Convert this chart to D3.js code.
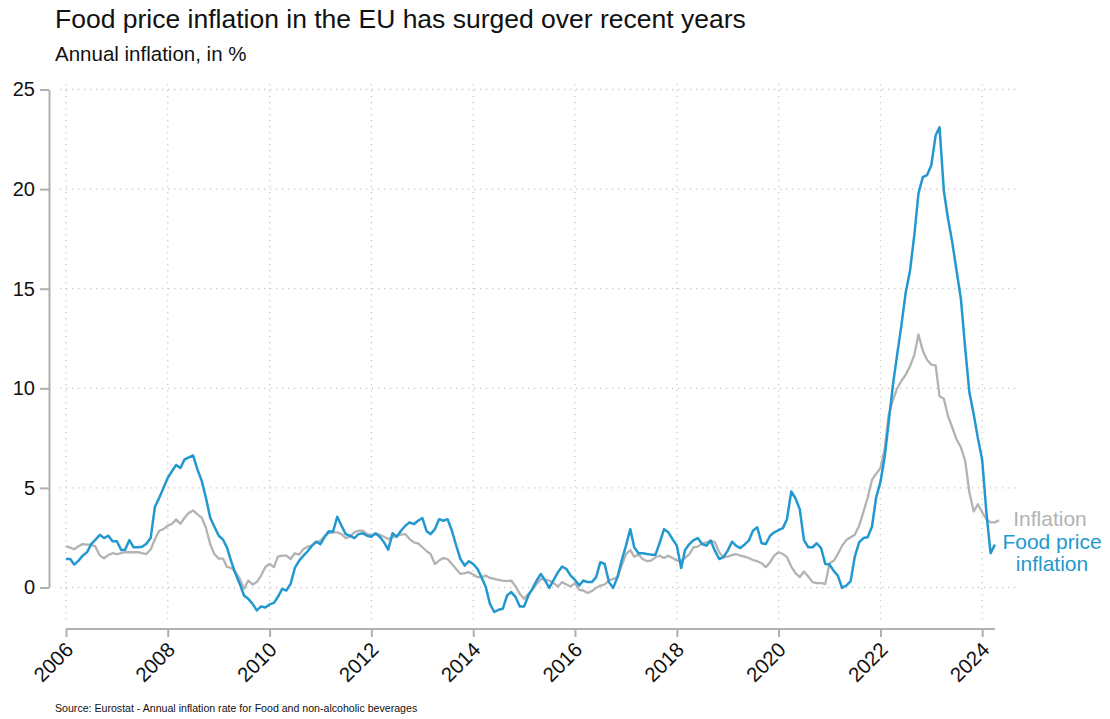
<!DOCTYPE html>
<html>
<head>
<meta charset="utf-8">
<script src="https://cdn.jsdelivr.net/npm/d3@7"></script>
<style>
  html, body { margin: 0; padding: 0; background: #fff; }
  svg { display: block; font-family: "Liberation Sans", Arial, Helvetica, sans-serif; }
</style>
</head>
<body>
<svg id="chart" width="1110" height="719"></svg>
<script>
// ---- data (monthly, starting January 2006) ----
const firstMonth = "2006-01";
const foodPrice = [
  1.43, 1.43, 1.15, 1.35, 1.6, 1.77, 2.18, 2.4, 2.65, 2.48, 2.6, 2.32,
  2.32, 1.88, 1.9, 2.38, 2.02, 2.02, 2.05, 2.2, 2.5, 4.05, 4.5, 5.0,
  5.5, 5.85, 6.15, 6.0, 6.43, 6.53, 6.63, 5.93, 5.35, 4.5, 3.5, 3.05,
  2.6, 2.4, 2.0, 1.3, 0.7, 0.18, -0.4, -0.57, -0.82, -1.15, -0.95, -1.0,
  -0.85, -0.77, -0.48, -0.07, -0.15, 0.18, 0.98, 1.35, 1.6, 1.82, 2.1, 2.3,
  2.18, 2.55, 2.82, 2.8, 3.55, 3.1, 2.68, 2.6, 2.48, 2.68, 2.72, 2.6,
  2.55, 2.72, 2.55, 2.27, 1.9, 2.72, 2.55, 2.85, 3.1, 3.27, 3.18, 3.35,
  3.48, 2.82, 2.68, 2.93, 3.43, 3.35, 3.43, 2.85, 2.1, 1.43, 1.1, 1.32,
  1.18, 0.93, 0.52, 0.02, -0.82, -1.23, -1.12, -1.07, -0.4, -0.23, -0.48, -0.95,
  -0.95, -0.4, -0.07, 0.35, 0.68, 0.35, -0.02, 0.38, 0.77, 1.05, 0.93, 0.6,
  0.38, 0.1, 0.35, 0.27, 0.27, 0.52, 1.27, 1.18, 0.27, -0.02, 0.52, 1.35,
  2.1, 2.93, 2.02, 1.72, 1.72, 1.68, 1.65, 1.65, 2.27, 2.93, 2.77, 2.43,
  2.1, 0.98, 1.88, 2.18, 2.38, 2.48, 2.18, 2.1, 2.35, 1.85, 1.43, 1.52,
  1.85, 2.3, 2.1, 1.98, 2.15, 2.35, 2.85, 3.02, 2.22, 2.18, 2.6, 2.77,
  2.88, 2.98, 3.43, 4.82, 4.48, 3.93, 2.38, 2.02, 2.02, 2.22, 1.98, 1.18,
  1.15, 0.82, 0.6, -0.02, 0.1, 0.32, 1.55, 2.27, 2.48, 2.52, 3.05, 4.52,
  5.3, 6.6, 8.3, 10.2, 11.7, 13.2, 14.8, 15.9, 17.7, 19.8, 20.6, 20.7,
  21.2, 22.7, 23.1, 19.9, 18.5, 17.3, 15.9, 14.5, 12.0, 9.8, 8.7, 7.5,
  6.4, 3.7, 1.72, 2.15
];
const inflation = [
  2.07, 2.0, 1.92, 2.07, 2.18, 2.15, 2.15, 2.05, 1.6, 1.47, 1.63, 1.72,
  1.68, 1.73, 1.77, 1.78, 1.77, 1.77, 1.72, 1.68, 1.92, 2.42, 2.85, 2.93,
  3.1, 3.2, 3.42, 3.2, 3.5, 3.75, 3.87, 3.67, 3.5, 3.0, 2.17, 1.67,
  1.45, 1.45, 1.03, 0.98, 0.77, 0.43, -0.07, 0.35, 0.15, 0.27, 0.6, 1.03,
  1.18, 1.02, 1.55, 1.6, 1.6, 1.43, 1.72, 1.65, 1.93, 2.05, 2.1, 2.27,
  2.35, 2.6, 2.72, 2.77, 2.77, 2.68, 2.48, 2.55, 2.77, 2.85, 2.85, 2.68,
  2.65, 2.68, 2.65, 2.55, 2.43, 2.52, 2.6, 2.65, 2.68, 2.43, 2.27, 2.22,
  2.02, 1.82, 1.68, 1.18, 1.35, 1.48, 1.43, 1.18, 0.93, 0.68, 0.72, 0.77,
  0.65, 0.52, 0.52, 0.6, 0.48, 0.43, 0.38, 0.35, 0.32, 0.35, 0.05, -0.32,
  -0.57, -0.32, -0.12, 0.18, 0.43, 0.4, 0.35, 0.22, 0.05, 0.27, 0.15, 0.05,
  0.22, -0.12, -0.15, -0.28, -0.18, -0.02, 0.1, 0.15, 0.35, 0.43, 0.52, 1.1,
  1.68, 1.88, 1.55, 1.65, 1.43, 1.32, 1.35, 1.52, 1.6, 1.48, 1.6, 1.48,
  1.35, 1.35, 1.48, 1.68, 2.02, 2.05, 2.2, 2.27, 2.35, 2.27, 1.77, 1.52,
  1.55, 1.63, 1.68, 1.6, 1.55, 1.48, 1.38, 1.32, 1.22, 1.02, 1.27, 1.6,
  1.77, 1.68, 1.52, 1.05, 0.72, 0.52, 0.8, 0.55, 0.27, 0.22, 0.22, 0.18,
  1.22, 1.35, 1.68, 2.1, 2.38, 2.52, 2.65, 3.1, 3.8, 4.5, 5.4, 5.7,
  6.0, 7.0, 8.68, 9.43, 10.0, 10.38, 10.68, 11.1, 11.68, 12.7, 11.88, 11.43,
  11.18, 11.15, 9.6, 9.48, 8.6, 8.02, 7.43, 7.05, 6.35, 4.77, 3.82, 4.18,
  3.77, 3.43, 3.27, 3.27, 3.38
];
const xTickYears = [2006, 2008, 2010, 2012, 2014, 2016, 2018, 2020, 2022, 2024];
const yTicks = [0, 5, 10, 15, 20, 25];
const titleText = "Food price inflation in the EU has surged over recent years";
const subtitleText = "Annual inflation, in %";
const sourceText = "Source: Eurostat - Annual inflation rate for Food and non-alcoholic beverages";

// ---- drawing ----
const svg = d3.select("#chart");
const parse = d3.utcParse("%Y-%m");
const start = parse(firstMonth);
const monthDate = i => d3.utcMonth.offset(start, i);

const blue = "#2398d0";
const grey = "#b3b3b3";
const axisCol = "#b0b0b0";
const gridCol = "#c8c8c8";

const x = d3.scaleUtc()
  .domain([new Date(Date.UTC(2006, 0, 1)), new Date(Date.UTC(2024, 0, 1))])
  .range([66, 982.2]);
const y = d3.scaleLinear().domain([0, 25]).range([587.5, 89.5]);

// grid
const grid = svg.append("g");
grid.selectAll("line.v").data(xTickYears).join("line")
  .attr("x1", d => x(new Date(Date.UTC(d, 0, 1)))).attr("x2", d => x(new Date(Date.UTC(d, 0, 1))))
  .attr("y1", 84).attr("y2", 624)
  .attr("stroke", gridCol).attr("stroke-width", 1.3).attr("stroke-dasharray", "1.3,4.7");
grid.selectAll("line.h").data(yTicks).join("line")
  .attr("x1", 60).attr("x2", 1018)
  .attr("y1", d => y(d)).attr("y2", d => y(d))
  .attr("stroke", gridCol).attr("stroke-width", 1.3).attr("stroke-dasharray", "1.3,4.7");

// y axis
const yAxis = svg.append("g").attr("transform", "translate(49,0)")
  .call(d3.axisLeft(y).tickValues(yTicks).tickSize(9).tickPadding(5).tickSizeOuter(0));
yAxis.select(".domain").attr("stroke", axisCol).attr("stroke-width", 2);
yAxis.selectAll(".tick line").attr("stroke", axisCol).attr("stroke-width", 2);
yAxis.selectAll(".tick text").attr("font-size", 20).attr("fill", "#111")
  .attr("font-family", "'Liberation Sans', Arial, sans-serif");

// x axis
const xAxis = svg.append("g").attr("transform", "translate(0,629)")
  .call(d3.axisBottom(x)
    .tickValues(xTickYears.map(d => new Date(Date.UTC(d, 0, 1))))
    .tickFormat(d3.utcFormat("%Y")).tickSize(8).tickSizeOuter(0));
xAxis.select(".domain").attr("stroke", axisCol).attr("stroke-width", 2)
  .attr("d", `M66,0H995`);
xAxis.selectAll(".tick line").attr("stroke", axisCol).attr("stroke-width", 2);
xAxis.selectAll(".tick text")
  .attr("font-size", 20.5).attr("fill", "#111")
  .attr("font-family", "'Liberation Sans', Arial, sans-serif")
  .attr("text-anchor", "end")
  .attr("dy", null).attr("y", 0)
  .attr("transform", "translate(8,22) rotate(-45)");

// lines
const line = d3.line()
  .x((d, i) => x(monthDate(i)))
  .y(d => y(d));
svg.append("path").datum(inflation)
  .attr("d", line).attr("fill", "none").attr("stroke", grey)
  .attr("stroke-width", 2.3).attr("stroke-linejoin", "round");
svg.append("path").datum(foodPrice)
  .attr("d", line).attr("fill", "none").attr("stroke", blue)
  .attr("stroke-width", 2.5).attr("stroke-linejoin", "round");

// labels
svg.append("text").attr("x", 1050).attr("y", 526).attr("text-anchor", "middle")
  .attr("font-size", 21).attr("fill", grey).text("Inflation");
svg.append("text").attr("x", 1052).attr("y", 549).attr("text-anchor", "middle")
  .attr("font-size", 21).attr("fill", blue).text("Food price");
svg.append("text").attr("x", 1052).attr("y", 571).attr("text-anchor", "middle")
  .attr("font-size", 21).attr("fill", blue).text("inflation");

// title etc.
svg.append("text").attr("x", 55).attr("y", 28).attr("font-size", 26.5).attr("fill", "#111").text(titleText);
svg.append("text").attr("x", 55).attr("y", 61).attr("font-size", 20.5).attr("fill", "#111").text(subtitleText);
svg.append("text").attr("x", 55).attr("y", 712).attr("font-size", 10.6).attr("fill", "#111").text(sourceText);
</script>
</body>
</html>
